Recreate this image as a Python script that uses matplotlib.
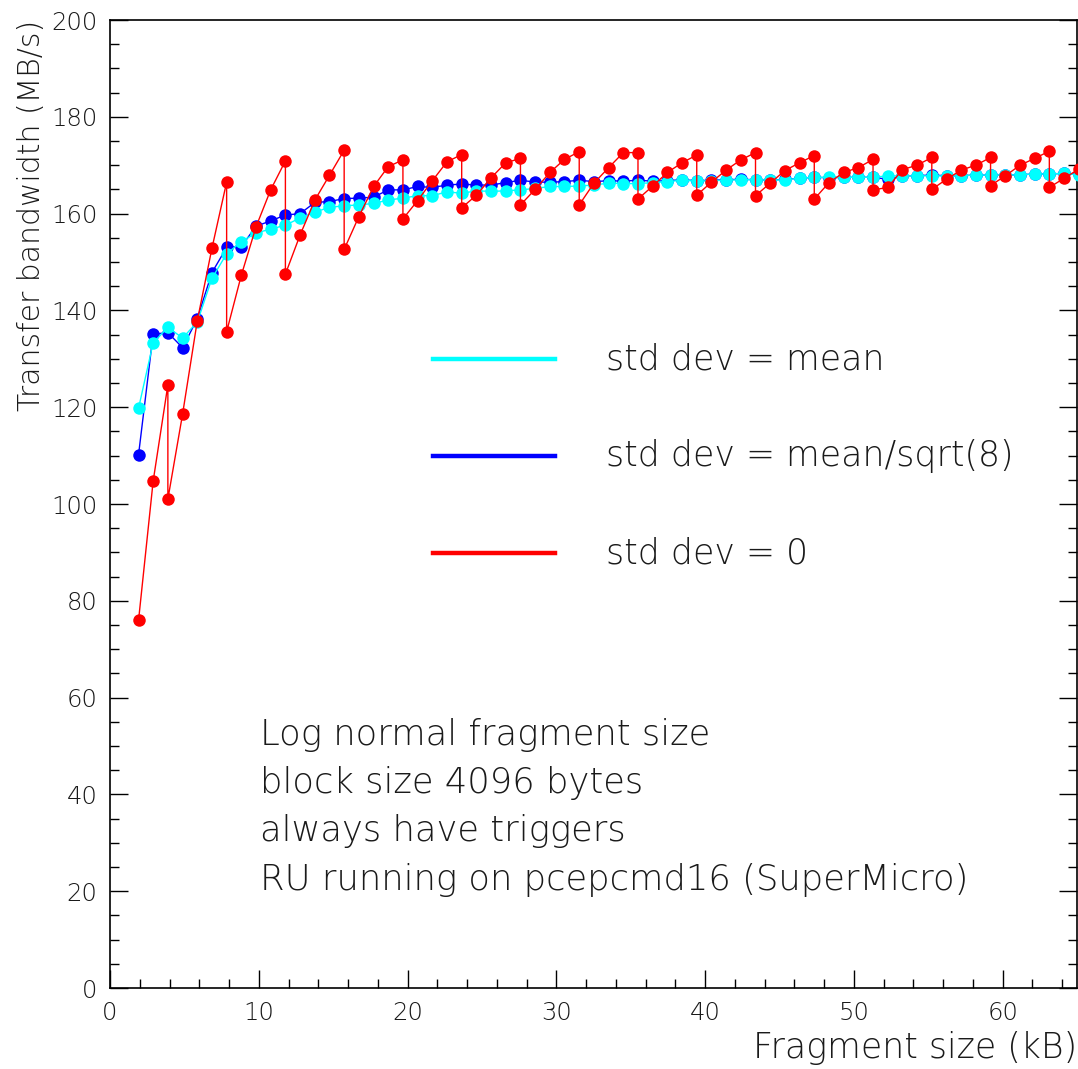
import matplotlib
matplotlib.use("Agg")
import matplotlib.pyplot as plt
from matplotlib.lines import Line2D
from matplotlib.ticker import MultipleLocator

# ---- data ----
frag_kb = [1.92, 2.90, 3.89, 4.88, 5.87, 6.85, 7.84, 8.83, 9.82, 10.80,
           11.79, 12.78, 13.77, 14.75, 15.74, 16.73, 17.72, 18.70, 19.69, 20.68,
           21.67, 22.65, 23.64, 24.63, 25.62, 26.60, 27.59, 28.58, 29.57, 30.55,
           31.54, 32.53, 33.52, 34.50, 35.49, 36.48, 37.47, 38.45, 39.44, 40.43,
           41.42, 42.40, 43.39, 44.38, 45.37, 46.35, 47.34, 48.33, 49.32, 50.30,
           51.29, 52.28, 53.27, 54.25, 55.24, 56.23, 57.22, 58.20, 59.19, 60.18,
           61.17, 62.15, 63.14, 64.13, 65.12]

bw_std_mean = [119.8, 133.3, 136.5, 134.3, 137.6, 146.6, 151.7, 154.2, 156.0, 156.8,
               157.6, 159.1, 160.3, 161.3, 161.6, 161.8, 162.1, 162.8, 163.2, 163.7,
               163.7, 164.5, 164.2, 164.7, 164.6, 164.7, 164.9, 165.2, 165.6, 165.6,
               165.7, 165.9, 166.3, 166.2, 166.2, 166.4, 166.6, 166.9, 166.7, 166.8,
               166.9, 167.0, 167.0, 166.9, 167.0, 167.3, 167.5, 167.5, 167.5, 167.5,
               167.5, 167.8, 167.8, 167.8, 167.8, 167.8, 167.8, 168.0, 167.9, 168.0,
               168.0, 168.2, 168.2, 168.3, 168.0]

bw_std_sqrt8 = [110.2, 135.1, 135.4, 132.3, 138.3, 147.8, 153.0, 153.2, 157.4, 158.5,
                159.7, 160.0, 162.3, 162.5, 163.1, 163.2, 163.4, 164.9, 164.9, 165.6,
                165.4, 165.9, 166.1, 165.9, 165.9, 166.4, 166.9, 166.5, 166.5, 166.6,
                166.9, 166.6, 166.8, 166.7, 166.9, 166.7, 166.8, 167.0, 166.8, 166.9,
                167.0, 167.1, 167.0, 166.9, 167.1, 167.3, 167.5, 167.4, 167.5, 167.5,
                167.5, 167.1, 167.8, 167.8, 168.0, 167.8, 167.8, 168.0, 167.9, 168.0,
                168.0, 168.2, 168.2, 168.3, 168.1]

# std dev = 0: two measurements at every 4th size
zero_kb = [1.92, 2.90, 3.89, 3.89, 4.88, 5.87, 6.85, 7.84, 7.84, 8.83, 9.82, 10.80,
           11.79, 11.79, 12.78, 13.77, 14.75, 15.74, 15.74, 16.73, 17.72, 18.70,
           19.69, 19.69, 20.68, 21.67, 22.65, 23.64, 23.64, 24.63, 25.62, 26.60,
           27.59, 27.59, 28.58, 29.57, 30.55, 31.54, 31.54, 32.53, 33.52, 34.50,
           35.49, 35.49, 36.48, 37.47, 38.45, 39.44, 39.44, 40.43, 41.42, 42.40,
           43.39, 43.39, 44.38, 45.37, 46.35, 47.34, 47.34, 48.33, 49.32, 50.30,
           51.29, 51.29, 52.28, 53.27, 54.25, 55.24, 55.24, 56.23, 57.22, 58.20,
           59.19, 59.19, 60.18, 61.17, 62.15, 63.14, 63.14, 64.13, 65.12]
bw_std_zero = [76.0, 104.7, 124.6, 101.0, 118.6, 137.9, 152.8, 166.5, 135.6, 147.3, 157.3, 164.9,
               170.9, 147.5, 155.6, 162.8, 167.9, 173.1, 152.6, 159.4, 165.6, 169.7,
               171.1, 158.9, 162.7, 166.8, 170.7, 172.2, 161.2, 163.8, 167.4, 170.5,
               171.4, 161.8, 165.0, 168.5, 171.2, 172.8, 161.8, 166.3, 169.5, 172.6,
               172.6, 163.0, 165.7, 168.5, 170.5, 172.1, 163.8, 166.5, 169.0, 171.1,
               172.6, 163.7, 166.3, 168.9, 170.5, 172.0, 163.0, 166.4, 168.5, 169.5,
               171.2, 164.9, 165.4, 169.1, 170.0, 171.6, 165.0, 167.1, 169.0, 170.0,
               171.6, 165.8, 167.8, 170.0, 171.4, 172.9, 165.4, 167.3, 169.2]

legend_labels = ["std dev = mean", "std dev = mean/sqrt(8)", "std dev = 0"]
series_colors = ["#00ffff", "#0000ff", "#ff0000"]
notes = ["Log normal fragment size", "block size 4096 bytes",
         "always have triggers", "RU running on pcepcmd16 (SuperMicro)"]

# ---- figure ----
W, H = 1078, 1069
plt.rcParams['font.family'] = ['DejaVu Sans']
TXT = '#1a1a1a'
WT = 'light'
fig = plt.figure(figsize=(W / 100, H / 100), dpi=100)
fig.patch.set_facecolor('white')

def fx(px):
    return px / W

def fy(py):
    return 1 - py / H

ax = fig.add_axes([fx(110), fy(988), fx(1077) - fx(110), fy(20) - fy(988)])

ms = 9
ax.plot(frag_kb, bw_std_sqrt8, '-o', color=series_colors[1], lw=1.0, ms=ms,
        mec='none', clip_on=False, zorder=3)
ax.plot(frag_kb, bw_std_mean, '-o', color=series_colors[0], lw=1.0, ms=ms,
        mec='none', clip_on=False, zorder=4)
ax.plot(zero_kb, bw_std_zero, '-o', color=series_colors[2], lw=1.0, ms=ms,
        mec='none', clip_on=False, zorder=5)

ax.set_xlim(0, 65)
ax.set_ylim(0, 200)
ax.xaxis.set_major_locator(MultipleLocator(10))
ax.xaxis.set_minor_locator(MultipleLocator(2))
ax.yaxis.set_major_locator(MultipleLocator(20))
ax.yaxis.set_minor_locator(MultipleLocator(5))
ax.tick_params(which='both', direction='in', top=False, right=True,
               colors='black', width=1.0, labelcolor=TXT)
ax.tick_params(which='major', length=13, labelsize=17.5, pad=9)
ax.tick_params(which='minor', length=6.5)
for lab in ax.get_xticklabels() + ax.get_yticklabels():
    lab.set_fontweight(WT)
for s in ax.spines.values():
    s.set_linewidth(1.2)
    s.set_color('black')

fig.text(fx(1077), fy(1048), "Fragment size (kB)", ha='right', va='center',
         fontsize=25, fontweight=WT, color=TXT)
fig.text(fx(32), fy(20), "Transfer bandwidth (MB/s)", ha='center', va='top',
         rotation=90, fontsize=21.5, fontweight=WT, color=TXT)

# legend
leg_y = [359, 456, 553]
for lab, col, y in zip(legend_labels, series_colors, leg_y):
    fig.add_artist(Line2D([fx(433), fx(555)], [fy(y), fy(y)], color=col, lw=3.2))
    fig.text(fx(606), fy(y), lab, ha='left', va='center', fontsize=25,
             fontweight=WT, color=TXT)

note_y = [735, 783, 831, 880]
for t, y in zip(notes, note_y):
    fig.text(fx(260), fy(y), t, ha='left', va='center', fontsize=25.5,
             fontweight=WT, color=TXT)

fig.savefig("out.png", dpi=100)
